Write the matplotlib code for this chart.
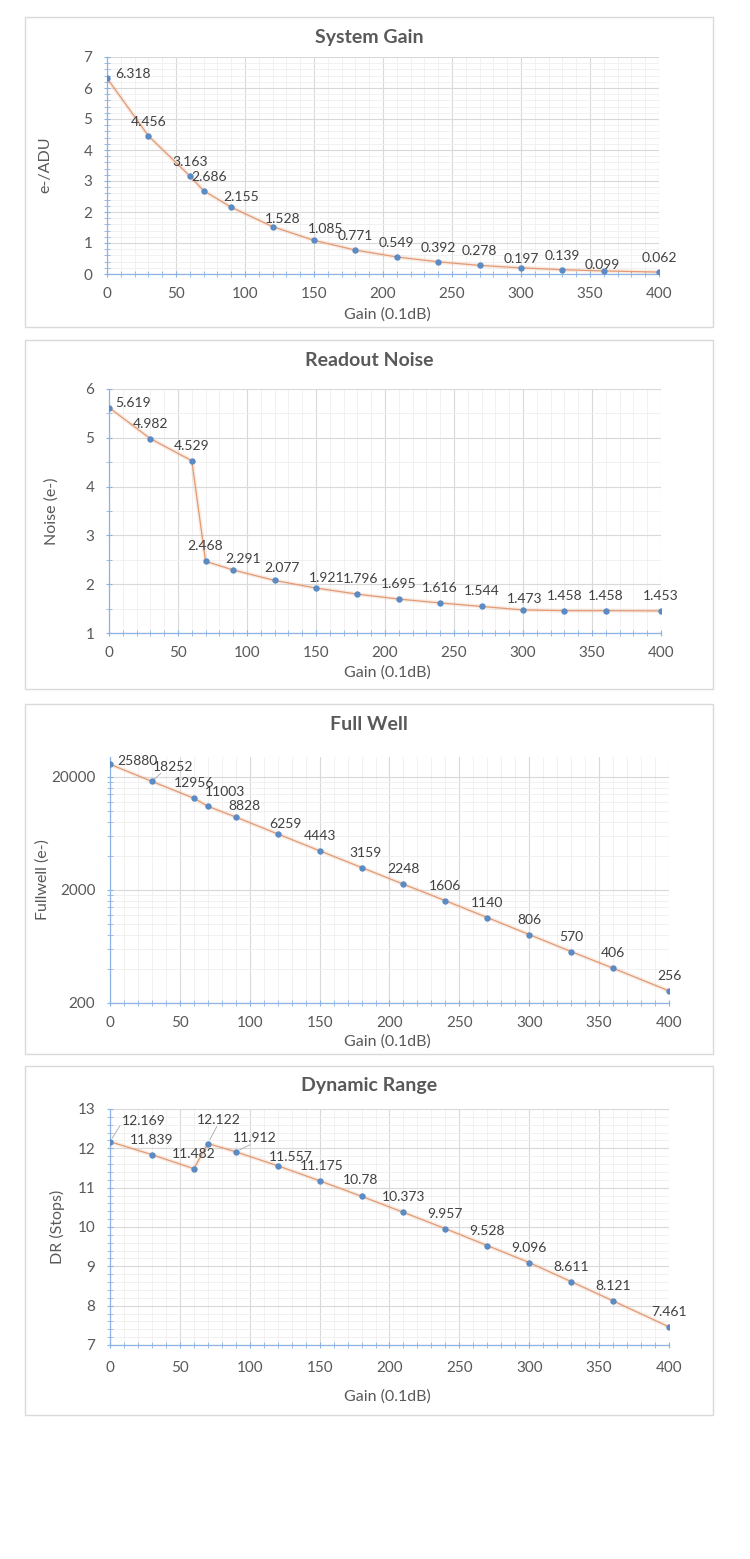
import matplotlib
matplotlib.use("Agg")
import matplotlib.pyplot as plt
from matplotlib.patches import Rectangle
from matplotlib.ticker import MultipleLocator, FixedLocator, NullFormatter, FuncFormatter

plt.rcParams['font.family'] = ['Lato', 'DejaVu Sans']

# data
gain = [0, 30, 60, 70, 90, 120, 150, 180, 210, 240, 270, 300, 330, 360, 400]
system_gain = [6.318, 4.456, 3.163, 2.686, 2.155, 1.528, 1.085, 0.771, 0.549,
               0.392, 0.278, 0.197, 0.139, 0.099, 0.062]
system_gain_lbl = ['6.318', '4.456', '3.163', '2.686', '2.155', '1.528', '1.085', '0.771',
                   '0.549', '0.392', '0.278', '0.197', '0.139', '0.099', '0.062']
read_noise = [5.619, 4.982, 4.529, 2.468, 2.291, 2.077, 1.921, 1.796, 1.695,
              1.616, 1.544, 1.473, 1.458, 1.458, 1.453]
read_noise_lbl = ['5.619', '4.982', '4.529', '2.468', '2.291', '2.077', '1.921', '1.796',
                  '1.695', '1.616', '1.544', '1.473', '1.458', '1.458', '1.453']
full_well = [25880, 18252, 12956, 11003, 8828, 6259, 4443, 3159, 2248,
             1606, 1140, 806, 570, 406, 256]
full_well_lbl = [str(v) for v in full_well]
dyn_range = [12.169, 11.839, 11.482, 12.122, 11.912, 11.557, 11.175, 10.78, 10.373,
             9.957, 9.528, 9.096, 8.611, 8.121, 7.461]
dyn_range_lbl = ['12.169', '11.839', '11.482', '12.122', '11.912', '11.557', '11.175', '10.78',
                 '10.373', '9.957', '9.528', '9.096', '8.611', '8.121', '7.461']

W, H = 750, 1559
fig = plt.figure(figsize=(W / 100, H / 100), dpi=100)

TXT = '#595959'
LBL = '#404040'
BLUE = '#5B8BC4'
ORANGE = '#E39B74'


def px_axes(l, t, r, b):
    return fig.add_axes([l / W, 1 - b / H, (r - l) / W, (b - t) / H])


def box(t, b):
    fig.patches.append(Rectangle((25 / W, 1 - b / H), 688 / W, (b - t) / H,
                                 transform=fig.transFigure, fill=False,
                                 edgecolor='#D9D9D9', lw=1))


def style(ax):
    ax.set_xlim(0, 400)
    ax.xaxis.set_major_locator(MultipleLocator(50))
    ax.xaxis.set_minor_locator(MultipleLocator(10))
    ax.grid(which='major', color='#D9D9D9', lw=0.8)
    ax.grid(which='minor', color='#EFEFEF', lw=0.6)
    ax.set_axisbelow(True)
    for s in ['top', 'right']:
        ax.spines[s].set_visible(False)
    for s in ['left', 'bottom']:
        ax.spines[s].set_color('#8DB3E2')
        ax.spines[s].set_linewidth(0.9)
    ax.tick_params(which='both', direction='inout', color='#8DB3E2', labelcolor=TXT,
                   labelsize=11)
    ax.tick_params(which='major', length=5)
    ax.tick_params(which='minor', length=4)
    ax.tick_params(axis='x', pad=7)
    ax.tick_params(axis='y', pad=8)


def draw(ax, y, labels, offsets, default=(0, 14)):
    ax.plot(gain, y, color=ORANGE, lw=3, alpha=0.18, solid_capstyle='round', zorder=2)
    ax.plot(gain, y, color=ORANGE, lw=0.9, zorder=3)
    ax.plot(gain, y, 'o', color=BLUE, ms=4.6, zorder=4, mec='none')
    for i, (x, v, s) in enumerate(zip(gain, y, labels)):
        dx, dy = offsets.get(i, default)
        ha = 'left' if i == 0 else 'center'
        ax.annotate(s, (x, v), xytext=(dx, dy), textcoords='offset pixels',
                    ha=ha, va='center', fontsize=10, color=LBL, zorder=5,
                    annotation_clip=False)


def titles(title, ty, xlabel, xly, ylabel, ylx, yly):
    fig.text(369 / W, 1 - ty / H, title, ha='center', va='center', fontsize=14,
             fontweight='bold', color=TXT)
    fig.text(387 / W, 1 - xly / H, xlabel, ha='center', va='center', fontsize=11.5, color=TXT)
    fig.text(ylx / W, 1 - yly / H, ylabel, ha='center', va='center', fontsize=11.5,
             color=TXT, rotation=90)


# panel 1 - system gain
box(17, 327)
ax1 = px_axes(107, 57, 659, 274)
style(ax1)
ax1.set_ylim(0, 7)
ax1.yaxis.set_major_locator(MultipleLocator(1))
ax1.yaxis.set_minor_locator(MultipleLocator(0.2))
draw(ax1, system_gain, system_gain_lbl,
     {0: (8, 4), 3: (6, 14), 4: (10, 10), 5: (10, 8), 6: (12, 11), 11: (0, 9), 13: (-2, 6)})
titles('System Gain', 37, 'Gain (0.1dB)', 315, 'e-/ADU', 45, 165)

# panel 2 - readout noise
box(340, 689)
ax2 = px_axes(109, 389, 661, 633)
style(ax2)
ax2.set_ylim(1, 6)
ax2.yaxis.set_major_locator(MultipleLocator(1))
ax2.yaxis.set_minor_locator(MultipleLocator(0.5))
draw(ax2, read_noise, read_noise_lbl,
     {0: (6, 5), 4: (10, 11), 5: (7, 12), 6: (11, 10), 7: (3, 15), 11: (2, 11)}, (0, 15))
titles('Readout Noise', 360, 'Gain (0.1dB)', 673, 'Noise (e-)', 52, 511)

# panel 3 - full well
box(704, 1054)
ax3 = px_axes(110, 757, 669, 1003)
style(ax3)
ax3.set_yscale('log')
ax3.set_ylim(200, 30000)
ax3.yaxis.set_major_locator(FixedLocator([200, 2000, 20000]))
ax3.yaxis.set_major_formatter(FuncFormatter(lambda v, p: '%d' % v))
minors = [200 * k for k in range(2, 10)] + [2000 * k for k in range(2, 10)]
ax3.yaxis.set_minor_locator(FixedLocator(minors))
ax3.yaxis.set_minor_formatter(NullFormatter())
draw(ax3, full_well, full_well_lbl,
     {0: (7, 3), 1: (21, 14), 3: (17, 14), 4: (9, 11), 5: (8, 10), 7: (4, 15)}, (0, 15))
ax3.annotate('', (30, 18252), xytext=(11, 10), textcoords='offset pixels',
             arrowprops=dict(arrowstyle='-', color='#A6A6A6', lw=0.6))
titles('Full Well', 724, 'Gain (0.1dB)', 1042, 'Fullwell (e-)', 43, 880)

# panel 4 - dynamic range
box(1066, 1415)
ax4 = px_axes(110, 1109, 669, 1345)
style(ax4)
ax4.set_ylim(7, 13)
ax4.yaxis.set_major_locator(MultipleLocator(1))
ax4.yaxis.set_minor_locator(MultipleLocator(0.2))
draw(ax4, dyn_range, dyn_range_lbl,
     {0: (12, 21), 3: (11, 24), 4: (19, 14), 5: (13, 9), 6: (2, 15), 7: (-1, 16)}, (0, 15))
for i, (dx, dy) in [(0, (10, 16)), (3, (9, 17)), (4, (14, 7))]:
    ax4.annotate('', (gain[i], dyn_range[i]), xytext=(dx, dy), textcoords='offset pixels',
                 arrowprops=dict(arrowstyle='-', color='#A6A6A6', lw=0.6, shrinkA=0, shrinkB=3))
ax4.tick_params(axis='x', pad=9)
titles('Dynamic Range', 1086, 'Gain (0.1dB)', 1397, 'DR (Stops)', 57, 1227)

fig.savefig('out.png', dpi=100, facecolor='white')
